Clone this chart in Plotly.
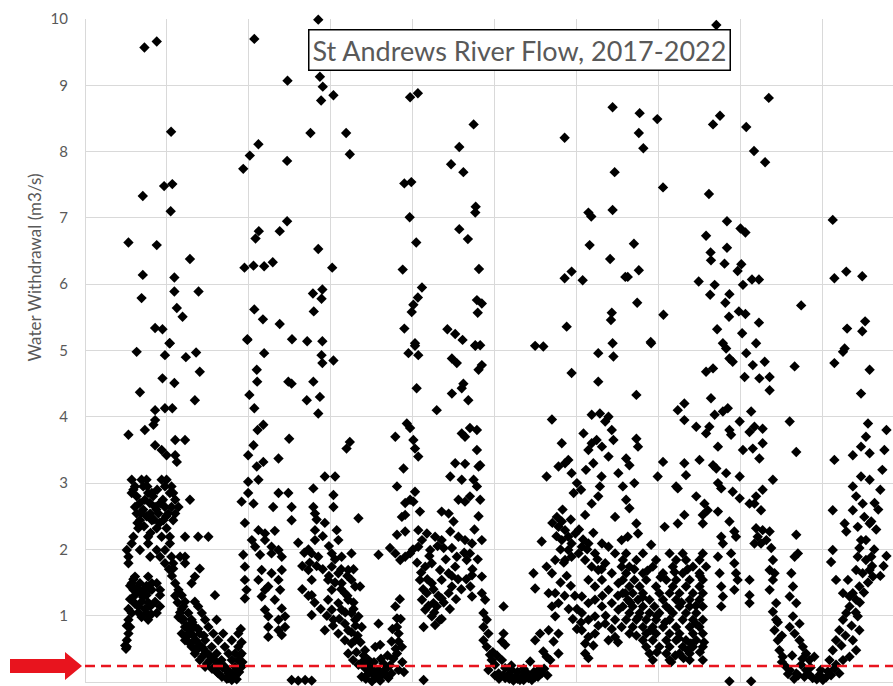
import plotly.graph_objects as go

# ---- Data: (day since start of record, river flow m3/s) ----
season1_high = [(145, 9.57), (175, 9.66), (210, 8.30), (193, 7.48), (213, 7.51), (141, 7.33), (209, 7.10),
                (106, 6.63), (175, 6.59), (256, 6.38), (141, 6.14), (218, 6.10), (218, 5.89), (277, 5.89),
                (138, 5.79), (224, 5.64), (238, 5.51), (171, 5.34), (189, 5.32), (206, 5.11)]

season2_high = [(569, 9.99), (413, 9.70), (494, 9.07), (573, 9.13), (580, 8.98), (576, 8.77), (606, 8.85),
                (550, 8.28), (637, 8.28), (646, 7.96), (423, 8.11), (402, 7.94), (386, 7.74), (493, 7.86),
                (493, 6.95), (475, 6.80), (424, 6.80), (416, 6.69), (569, 6.53), (603, 6.25), (389, 6.25),
                (411, 6.28), (437, 6.27), (458, 6.33), (579, 5.92), (556, 5.86), (577, 5.78), (558, 5.59),
                (413, 5.62), (434, 5.47), (475, 5.40), (396, 5.17), (505, 5.17), (542, 5.14), (579, 5.14)]

season1_mid = [(126, 4.98), (207, 5.11), (195, 4.93), (246, 4.90), (271, 4.97), (280, 4.68), (189, 4.58),
               (218, 4.51), (134, 4.37), (268, 4.25), (171, 4.10), (195, 4.13), (213, 4.13), (171, 3.95),
               (167, 3.88), (106, 3.73), (146, 3.80), (220, 3.65), (244, 3.65), (171, 3.57), (187, 3.50),
               (199, 3.42), (220, 3.42), (224, 3.32)]

season1_low = [(114, 3.05), (138, 3.05), (150, 3.05), (187, 3.05), (199, 3.05),
               (122, 2.95), (142, 2.95), (195, 2.95), (211, 2.95),
               (114, 2.85), (154, 2.85), (163, 2.85), (207, 2.85), (215, 2.85),
               (146, 2.75), (220, 2.75), (256, 2.75),
               (122, 2.64), (171, 2.64), (195, 2.64), (211, 2.64), (228, 2.64),
               (126, 2.54), (159, 2.54), (179, 2.54), (203, 2.54), (220, 2.54),
               (134, 2.44), (163, 2.44), (191, 2.44), (215, 2.44),
               (130, 2.32), (175, 2.32), (199, 2.32),
               (118, 2.19), (154, 2.19), (187, 2.19), (207, 2.19), (244, 2.19), (276, 2.19), (301, 2.19),
               (114, 2.09), (154, 2.09), (207, 2.09),
               (102, 1.99), (134, 1.99), (175, 1.99), (195, 1.99),
               (106, 1.89), (159, 1.89), (183, 1.89), (211, 1.89), (232, 1.89), (244, 1.89),
               (106, 1.79), (195, 1.79), (215, 1.79), (244, 1.79),
               (215, 1.71), (280, 1.71),
               (122, 1.59), (154, 1.59), (268, 1.59),
               (114, 1.49), (134, 1.49), (163, 1.49), (175, 1.49), (220, 1.49), (260, 1.49),
               (118, 1.39), (142, 1.39), (163, 1.39), (183, 1.39), (228, 1.39),
               (122, 1.31), (150, 1.31), (183, 1.31), (236, 1.31), (317, 1.31),
               (118, 1.21), (138, 1.21), (171, 1.21), (244, 1.21), (268, 1.21),
               (130, 1.14), (159, 1.14), (183, 1.14), (240, 1.14), (276, 1.14),
               (114, 1.04), (150, 1.04), (175, 1.04), (252, 1.04), (285, 1.04),
               (106, 0.94), (154, 0.94), (236, 0.94), (260, 0.94), (293, 0.94), (321, 0.94),
               (110, 0.83), (244, 0.83), (268, 0.83), (301, 0.83),
               (106, 0.73), (236, 0.73), (252, 0.73), (280, 0.73), (313, 0.73), (337, 0.73), (374, 0.73),
               (102, 0.63), (244, 0.63), (268, 0.63), (293, 0.63), (325, 0.63), (358, 0.63),
               (102, 0.53), (260, 0.53), (285, 0.53), (309, 0.53), (341, 0.53), (374, 0.53),
               (268, 0.43), (293, 0.43), (321, 0.43), (350, 0.43), (366, 0.43), (382, 0.43),
               (280, 0.33), (305, 0.33), (333, 0.33), (358, 0.33), (374, 0.33),
               (293, 0.23), (317, 0.23), (341, 0.23), (366, 0.23), (382, 0.23),
               (325, 0.13), (350, 0.13), (370, 0.13), (350, 0.06), (362, 0.06)]

season1_extra = [(110, 1.45), (118, 1.55), (126, 1.42), (134, 1.35), (142, 1.28), (150, 1.45), (158, 1.40),
                 (130, 1.05), (138, 0.98), (146, 1.10), (154, 1.20), (162, 1.02), (122, 1.18), (110, 1.25),
                 (102, 0.85), (98, 0.55), (100, 0.50), (106, 1.10),
                 (118, 2.90), (126, 2.80), (134, 2.70), (142, 2.60), (150, 2.50), (158, 2.70), (166, 2.80),
                 (174, 2.60), (182, 2.40), (190, 2.75), (198, 2.50), (128, 2.40), (136, 2.55), (144, 2.35),
                 (152, 2.95), (160, 2.25), (168, 2.45), (176, 2.90), (184, 2.70),
                 (205, 1.70), (212, 1.60), (220, 1.30), (226, 1.20), (232, 1.05), (240, 0.95), (248, 0.85),
                 (256, 0.78), (264, 0.70), (272, 0.62), (280, 0.55), (288, 0.50), (296, 0.45), (304, 0.40),
                 (312, 0.35), (320, 0.30), (328, 0.26), (336, 0.22), (344, 0.18), (352, 0.16), (360, 0.12),
                 (368, 0.10), (376, 0.15), (384, 0.30), (228, 0.98), (236, 1.10), (248, 0.68), (256, 0.58),
                 (272, 0.48), (286, 0.38), (298, 0.28), (310, 0.20), (322, 0.15), (334, 0.08), (346, 0.05),
                 (358, 0.03), (370, 0.04), (378, 0.40), (382, 0.60), (380, 0.80), (262, 0.90), (276, 0.80),
                 (290, 0.70)]

season2_low = [(396, 5.16), (437, 4.96), (577, 4.93), (579, 4.81), (606, 4.85), (419, 4.71), (420, 4.53),
               (496, 4.53), (504, 4.50), (557, 4.53), (401, 4.33), (541, 4.25), (573, 4.30), (413, 4.13),
               (569, 4.05), (435, 3.88), (421, 3.80), (498, 3.67), (411, 3.57), (638, 3.52), (646, 3.62),
               (398, 3.42), (472, 3.37), (435, 3.32), (419, 3.25), (585, 3.10), (610, 3.10), (398, 3.02),
               (423, 3.05), (557, 2.92), (606, 2.82), (398, 2.85), (472, 2.85), (496, 2.85), (382, 2.72),
               (411, 2.69), (459, 2.64), (504, 2.64), (557, 2.64), (561, 2.54), (606, 2.64), (504, 2.44),
               (390, 2.40), (585, 2.40), (423, 2.29), (439, 2.24), (463, 2.28), (561, 2.29), (614, 2.29),
               (407, 2.14), (439, 2.14), (455, 2.04), (561, 2.14), (618, 2.14), (415, 2.04), (472, 1.99),
               (386, 1.92), (427, 1.92), (455, 1.94), (480, 1.89), (553, 1.94), (569, 1.89), (602, 1.94),
               (626, 1.89), (650, 1.94), (390, 1.74), (431, 1.69), (455, 1.64), (480, 1.69), (545, 1.69),
               (602, 1.74), (618, 1.64), (642, 1.69), (390, 1.54), (423, 1.54), (447, 1.44), (472, 1.54),
               (553, 1.54), (593, 1.54), (626, 1.49), (650, 1.54), (394, 1.39), (439, 1.39), (476, 1.39),
               (602, 1.39), (634, 1.34), (659, 1.44), (390, 1.26), (431, 1.29), (463, 1.24), (553, 1.31),
               (593, 1.24), (618, 1.19), (642, 1.24), (439, 1.09), (480, 1.11), (602, 1.09), (626, 1.09),
               (650, 1.04), (447, 0.99), (472, 0.94), (488, 0.99), (553, 1.01), (606, 0.94), (634, 0.88),
               (659, 0.94), (447, 0.83), (472, 0.78), (488, 0.83), (585, 0.78), (618, 0.73), (642, 0.78),
               (447, 0.68), (480, 0.71), (634, 0.63), (650, 0.58), (642, 0.43), (654, 0.33),
               (504, 0.03), (520, 0.02), (537, 0.03), (553, 0.02)]

season2_extra = [(520, 2.10), (535, 1.95), (548, 1.80), (565, 1.75), (580, 1.70), (595, 1.60), (610, 1.50),
                 (625, 1.40), (640, 1.30), (655, 1.20), (530, 1.40), (545, 1.30), (560, 1.20), (575, 1.10),
                 (590, 1.00), (605, 0.85), (620, 0.95), (635, 1.05), (650, 0.75), (565, 2.45), (580, 2.20),
                 (595, 2.05), (610, 1.85), (625, 1.70), (640, 1.60), (655, 1.70), (545, 2.00), (530, 1.75),
                 (655, 1.10), (660, 0.85), (665, 0.70), (672, 0.60), (680, 0.40), (688, 0.30), (695, 0.22),
                 (703, 0.18), (712, 0.10), (720, 0.08), (728, 0.15), (735, 0.20), (744, 0.25), (752, 0.35),
                 (758, 0.50), (662, 0.45), (676, 0.30), (690, 0.12), (705, 0.30), (722, 0.35), (738, 0.40),
                 (750, 0.80), (770, 0.95), (768, 1.25), (774, 0.30), (778, 0.15), (720, 0.02), (685, 0.05),
                 (700, 0.01)]

season3_high = [(793, 8.82), (812, 8.88), (948, 8.41), (913, 8.07), (893, 7.81), (923, 7.69), (779, 7.52),
                (796, 7.54), (792, 7.01), (808, 6.63), (775, 6.22), (953, 7.17), (952, 7.08), (913, 6.83),
                (934, 6.68), (961, 6.23), (822, 5.95), (812, 5.80), (801, 5.69), (797, 5.58), (956, 5.76),
                (968, 5.71), (958, 5.57), (779, 5.33), (884, 5.32), (903, 5.25), (921, 5.16), (805, 5.07),
                (952, 5.07), (964, 5.08)]

season4_high = [(1170, 8.21), (1098, 5.07), (1118, 5.06), (1228, 7.08), (1235, 7.02), (1231, 6.59),
                (1187, 6.19), (1170, 6.09), (1214, 6.06), (1175, 5.36), (1287, 8.67), (1292, 7.69),
                (1287, 7.12), (1281, 6.38), (1318, 6.11), (1285, 5.57), (1283, 5.46), (1287, 5.11)]

season2_recession = [(667, 2.47), (716, 1.92), (671, 1.44), (667, 0.99), (675, 0.83), (716, 0.88), (659, 0.63),
                     (683, 0.48), (708, 0.53), (720, 0.56), (757, 1.14), (761, 0.96), (761, 0.83), (765, 0.73),
                     (765, 0.61), (773, 0.53), (761, 0.43), (748, 0.61), (667, 0.26), (683, 0.21), (700, 0.13),
                     (716, 0.18), (732, 0.11), (748, 0.13), (675, 0.08), (708, 0.06), (740, 0.06), (765, 0.18),
                     (692, 0.33), (728, 0.28), (826, 0.03)]

season3_low = [(805, 5.11), (789, 4.96), (813, 4.93), (895, 4.88), (907, 4.81), (952, 5.08), (960, 4.71),
               (968, 4.78), (923, 4.50), (919, 4.43), (809, 4.43), (895, 4.35), (935, 4.25), (858, 4.10),
               (785, 3.90), (793, 3.83), (757, 3.70), (801, 3.65), (805, 3.52), (813, 3.40), (919, 3.75),
               (927, 3.70), (939, 3.83), (956, 3.80), (956, 3.50), (964, 3.27), (960, 3.25), (903, 3.30),
               (927, 3.29), (777, 3.22), (891, 3.10), (919, 3.05), (948, 3.05), (956, 2.95), (761, 2.95),
               (805, 2.87), (911, 2.75), (927, 2.72), (939, 2.80), (964, 2.75), (781, 2.70), (793, 2.75),
               (801, 2.72), (781, 2.52), (773, 2.49), (817, 2.57), (870, 2.57), (887, 2.54), (899, 2.42),
               (891, 2.27), (761, 2.22), (781, 2.27), (813, 2.29), (834, 2.24), (854, 2.19), (870, 2.14),
               (822, 2.14), (911, 2.19), (927, 2.14), (944, 2.09), (968, 2.14), (744, 2.02), (757, 1.94),
               (769, 1.84), (781, 1.89), (793, 1.94), (813, 2.04), (842, 1.99), (875, 2.02), (895, 2.02),
               (907, 1.89), (931, 1.84), (939, 1.94), (830, 1.74), (846, 1.79), (866, 1.69), (887, 1.64),
               (903, 1.74), (944, 1.61), (968, 1.59), (817, 1.54), (846, 1.49), (870, 1.54), (895, 1.44),
               (834, 1.34), (940, 1.44), (944, 1.29), (968, 1.34), (976, 1.24), (822, 1.24), (850, 1.19),
               (870, 1.26), (887, 1.34), (830, 1.09), (858, 1.14), (846, 0.99), (866, 0.94), (854, 0.86),
               (826, 0.83), (972, 1.04), (980, 0.94), (972, 0.83), (984, 0.73), (972, 0.63), (980, 0.53),
               (988, 0.41), (992, 0.33), (1000, 0.26), (984, 0.18), (1017, 0.33), (1025, 0.21), (1009, 0.13),
               (1033, 0.11), (1049, 0.08), (1066, 0.08), (1082, 0.06), (1098, 0.08), (1114, 0.13),
               (1074, 0.16), (1041, 0.18), (1025, 0.06), (1061, 0.03), (1090, 0.03), (1106, 0.18),
               (1086, 0.31), (1021, 1.14), (1021, 0.73), (1017, 0.61), (1025, 0.56)]

season3_extra = [(800, 2.00), (810, 1.80), (820, 1.65), (835, 1.55), (850, 1.40), (862, 1.30), (875, 1.20),
                 (890, 1.10), (905, 1.25), (918, 1.40), (930, 1.55), (945, 1.70), (958, 1.85), (880, 1.85),
                 (860, 2.05), (840, 1.90), (825, 1.40), (838, 1.15), (852, 1.05), (870, 0.95), (895, 1.60),
                 (910, 1.55), (925, 1.95), (950, 2.30), (960, 2.50),
                 (1000, 0.10), (1010, 0.05), (1020, 0.10), (1035, 0.05), (1045, 0.02), (1055, 0.05),
                 (1070, 0.03), (1080, 0.12), (1095, 0.15), (1105, 0.08), (1120, 0.20), (1128, 0.10),
                 (1040, 0.25), (1055, 0.15), (1070, 0.20), (995, 0.45), (1005, 0.40)]

season4_low = [(1094, 1.64), (1098, 1.41), (1098, 0.63), (1110, 0.73), (1118, 0.46), (1126, 0.38), (1135, 0.33),
               (1114, 2.12), (1126, 3.10), (1139, 3.96), (1163, 3.60), (1187, 4.66), (1126, 1.74), (1147, 1.84),
               (1139, 1.64), (1131, 1.34), (1147, 1.34), (1139, 1.14), (1155, 1.19), (1147, 0.99), (1131, 0.78),
               (1155, 0.73), (1143, 0.61), (1155, 0.43), (1151, 2.49), (1163, 2.42), (1155, 2.34), (1171, 2.29),
               (1163, 2.14), (1179, 2.19), (1187, 2.09), (1196, 2.24), (1179, 1.99), (1204, 1.94), (1187, 1.89),
               (1171, 1.84), (1155, 3.25), (1171, 3.30), (1187, 3.15), (1179, 3.35), (1192, 2.85), (1216, 3.75),
               (1236, 3.60), (1228, 3.50), (1248, 3.65), (1261, 3.55), (1277, 3.40), (1269, 3.93), (1277, 4.00),
               (1256, 4.05), (1236, 4.03), (1285, 3.80), (1289, 3.65), (1301, 3.15), (1252, 4.96), (1289, 4.91),
               (1252, 4.53), (1256, 2.95), (1252, 2.80), (1236, 2.69), (1220, 2.52), (1293, 2.49),
               (1212, 2.04), (1228, 2.09), (1244, 1.94), (1261, 2.09), (1277, 2.04), (1293, 1.94), (1309, 2.14),
               (1220, 1.84), (1236, 1.74), (1252, 1.69), (1269, 1.79), (1285, 1.64), (1309, 1.74),
               (1228, 1.54), (1244, 1.44), (1261, 1.54), (1277, 1.39), (1301, 1.49), (1318, 1.34),
               (1212, 1.29), (1228, 1.19), (1244, 1.24), (1261, 1.14), (1285, 1.19), (1301, 1.09),
               (1212, 1.04), (1228, 0.94), (1244, 0.99), (1269, 0.88), (1293, 0.94), (1309, 0.83),
               (1212, 0.78), (1228, 0.68), (1220, 0.58), (1244, 0.73), (1277, 0.63), (1293, 0.68),
               (1220, 0.43), (1228, 0.36)]

season4_extra = [(1140, 2.40), (1150, 2.20), (1160, 2.00), (1168, 1.80), (1175, 1.60), (1185, 1.45), (1195, 1.30),
                 (1200, 1.10), (1210, 0.90), (1160, 1.50), (1170, 1.30), (1180, 1.10), (1190, 0.95), (1200, 0.80),
                 (1165, 2.60), (1185, 2.45), (1205, 2.30), (1215, 2.15), (1225, 2.00), (1240, 2.25), (1250, 1.85),
                 (1260, 1.70), (1200, 3.00), (1210, 2.90), (1222, 3.20), (1240, 3.30), (1260, 3.10),
                 (1340, 1.70), (1372, 1.68), (1404, 1.58), (1438, 1.66), (1470, 1.70), (1500, 1.60), (1330, 1.20),
                 (1360, 1.28), (1395, 1.00), (1425, 1.10), (1455, 1.20), (1490, 1.15), (1345, 0.70), (1380, 0.78),
                 (1415, 0.90), (1448, 0.66), (1478, 0.58), (1510, 0.60), (1395, 0.45), (1440, 0.40), (1470, 0.48),
                 (1500, 0.45), (1430, 0.30), (1460, 0.36), (1350, 0.98), (1490, 0.88), (1262, 1.30), (1270, 1.00),
                 (1285, 0.80), (1300, 0.60), (1252, 0.85), (1240, 0.55), (1300, 1.30)]

season5_high = [(1540, 9.91), (1353, 8.58), (1351, 8.28), (1362, 8.05), (1396, 8.49), (1532, 8.41), (1549, 8.54),
                (1668, 8.81), (1613, 8.37), (1632, 8.01), (1659, 7.84), (1410, 7.46), (1522, 7.36), (1824, 6.97),
                (1566, 6.95), (1599, 6.84), (1611, 6.78), (1339, 6.61), (1515, 6.73), (1566, 6.55), (1526, 6.48),
                (1527, 6.36), (1560, 6.31), (1601, 6.30), (1592, 6.20), (1324, 6.11), (1351, 6.21), (1497, 6.04),
                (1536, 5.99), (1525, 5.84), (1572, 5.85), (1562, 5.72), (1605, 5.99), (1627, 6.07), (1644, 6.07),
                (1347, 5.72), (1411, 5.54), (1747, 5.68), (1828, 6.09), (1857, 6.19), (1896, 6.12), (1595, 5.59),
                (1611, 5.55), (1571, 5.51), (1644, 5.42), (1542, 5.32), (1603, 5.26), (1859, 5.33), (1896, 5.29),
                (1903, 5.44), (1380, 5.13), (1556, 5.11), (1637, 5.11), (1853, 5.03)]

season5_mid = [(1381, 5.11), (1564, 5.03), (1613, 4.96), (1629, 4.78), (1658, 4.83), (1645, 4.58), (1670, 4.60),
               (1609, 4.60), (1670, 4.40), (1572, 4.88), (1580, 4.83), (1515, 4.68), (1532, 4.73), (1731, 4.76),
               (1828, 4.81), (1849, 4.98), (1914, 4.71), (1893, 4.35), (1345, 4.33), (1446, 4.10), (1462, 4.20),
               (1527, 4.28), (1556, 4.08), (1568, 4.13), (1536, 4.03), (1462, 3.95), (1491, 3.85), (1523, 3.85),
               (1515, 3.75), (1597, 3.93), (1625, 4.08), (1633, 3.85), (1653, 3.82), (1621, 3.77), (1572, 3.80),
               (1576, 3.73), (1719, 3.93), (1910, 3.90), (1905, 3.70), (1893, 3.55), (1914, 3.45), (1873, 3.42),
               (1735, 3.47), (1544, 3.55), (1605, 3.50), (1629, 3.52), (1653, 3.60), (1645, 3.37), (1828, 3.35),
               (1345, 3.67), (1349, 3.55), (1320, 3.37), (1328, 3.27), (1410, 3.32), (1462, 3.30), (1499, 3.35),
               (1397, 3.10), (1466, 3.12), (1532, 3.27), (1540, 3.22), (1564, 3.15), (1597, 3.10), (1340, 3.00),
               (1312, 2.95), (1320, 2.75), (1328, 2.62), (1442, 2.95), (1446, 2.92), (1544, 3.00), (1552, 2.92),
               (1580, 2.87), (1597, 2.77), (1621, 2.69), (1637, 2.80), (1653, 2.90), (1633, 2.69), (1649, 2.59),
               (1678, 3.05), (1893, 3.10), (1914, 3.05), (1873, 2.95), (1881, 2.80), (1897, 2.69), (1873, 2.59),
               (1901, 2.49), (1918, 2.42), (1824, 2.59), (1491, 2.80), (1511, 2.69), (1519, 2.59), (1507, 2.52),
               (1544, 2.57), (1414, 2.34), (1446, 2.39), (1462, 2.52), (1507, 2.39), (1345, 2.39), (1349, 2.24),
               (1324, 2.19), (1572, 2.42), (1584, 2.27), (1588, 2.19), (1552, 2.19), (1556, 2.09), (1637, 2.32),
               (1653, 2.29), (1670, 2.27), (1641, 2.19), (1662, 2.14), (1649, 2.09), (1674, 2.02), (1633, 2.09),
               (1735, 2.22), (1739, 1.94), (1731, 1.89), (1853, 2.39), (1857, 2.27), (1885, 2.34), (1914, 2.39),
               (1893, 2.14), (1905, 2.14), (1889, 2.02), (1824, 1.99), (1820, 1.81), (1381, 2.07)]

season5_low = [(1320, 1.94), (1361, 1.94), (1426, 1.94), (1458, 1.94), (1507, 1.94),
               (1312, 1.84), (1345, 1.84), (1393, 1.84), (1442, 1.84), (1466, 1.84), (1499, 1.84),
               (1328, 1.74), (1385, 1.74), (1434, 1.74), (1483, 1.74), (1515, 1.74),
               (1320, 1.64), (1361, 1.64), (1410, 1.64), (1458, 1.64), (1499, 1.64),
               (1312, 1.54), (1340, 1.54), (1369, 1.54), (1418, 1.54), (1442, 1.54), (1475, 1.54), (1507, 1.54),
               (1328, 1.44), (1353, 1.44), (1393, 1.44), (1434, 1.44), (1466, 1.44), (1499, 1.44),
               (1312, 1.34), (1336, 1.34), (1361, 1.34), (1401, 1.34), (1426, 1.34), (1450, 1.34), (1483, 1.34), (1507, 1.34),
               (1324, 1.24), (1349, 1.24), (1377, 1.24), (1410, 1.24), (1442, 1.24), (1475, 1.24), (1499, 1.24),
               (1312, 1.14), (1336, 1.14), (1361, 1.14), (1389, 1.14), (1418, 1.14), (1450, 1.14), (1475, 1.14), (1507, 1.14),
               (1328, 1.04), (1353, 1.04), (1377, 1.04), (1401, 1.04), (1434, 1.04), (1466, 1.04), (1491, 1.04),
               (1320, 0.94), (1345, 0.94), (1369, 0.94), (1393, 0.94), (1426, 0.94), (1458, 0.94), (1483, 0.94), (1507, 0.94),
               (1336, 0.83), (1361, 0.83), (1385, 0.83), (1410, 0.83), (1442, 0.83), (1475, 0.83), (1499, 0.83),
               (1328, 0.73), (1369, 0.73), (1393, 0.73), (1426, 0.73), (1450, 0.73), (1483, 0.73), (1507, 0.73),
               (1361, 0.63), (1385, 0.63), (1418, 0.63), (1442, 0.63), (1466, 0.63), (1491, 0.63),
               (1369, 0.53), (1401, 0.53), (1426, 0.53), (1458, 0.53), (1483, 0.53), (1507, 0.53),
               (1377, 0.43), (1418, 0.43), (1450, 0.43), (1475, 0.43),
               (1385, 0.33), (1426, 0.33), (1475, 0.33), (1507, 0.33)]

season6 = [(1544, 1.89), (1548, 1.64), (1552, 1.44), (1556, 1.29), (1552, 1.14), (1576, 1.94), (1584, 1.79),
           (1588, 1.64), (1592, 1.54), (1584, 1.39), (1621, 1.54), (1621, 1.31), (1621, 1.19), (1678, 1.84),
           (1670, 1.69), (1682, 1.64), (1678, 1.54), (1670, 1.39), (1686, 1.19), (1678, 1.06), (1686, 0.94),
           (1682, 0.78), (1690, 0.63), (1694, 0.48), (1702, 0.38), (1710, 0.23), (1719, 0.18), (1735, 0.13),
           (1747, 0.26), (1759, 0.18), (1755, 0.08), (1775, 0.06), (1792, 0.11), (1800, 0.03), (1812, 0.16),
           (1816, 0.33), (1824, 0.48), (1832, 0.63), (1840, 0.78), (1849, 0.94), (1857, 1.04), (1865, 1.14),
           (1881, 1.24), (1873, 1.34), (1885, 0.99), (1889, 0.78), (1873, 0.63), (1881, 0.48), (1865, 0.38),
           (1849, 0.33), (1832, 0.26), (1840, 0.13), (1723, 1.64), (1727, 1.44), (1719, 1.29), (1735, 1.19),
           (1727, 0.99), (1743, 0.88), (1719, 0.83), (1731, 0.73), (1743, 0.63), (1751, 0.53), (1759, 0.43),
           (1767, 0.33), (1779, 0.38), (1832, 1.54), (1849, 1.34), (1861, 1.54), (1881, 1.69), (1897, 1.64),
           (1914, 1.69), (1922, 1.59), (1905, 1.84), (1918, 1.89), (1885, 1.89), (1889, 1.44), (1865, 1.29),
           (1572, 0.01), (1625, 0.01)]

season6_extra = [(1700, 0.30), (1715, 0.12), (1730, 0.05), (1740, 0.10), (1765, 0.12), (1785, 0.04), (1795, 0.18),
                 (1808, 0.07), (1820, 0.10), (1828, 0.20), (1725, 0.40), (1750, 0.35), (1770, 0.22), (1690, 0.90),
                 (1700, 0.70), (1845, 0.55), (1855, 0.70), (1870, 0.85), (1880, 1.05), (1890, 1.20), (1900, 1.35),
                 (1910, 1.50), (1920, 1.75), (1925, 2.00), (1930, 2.30), (1935, 2.60), (1940, 2.90), (1945, 3.20),
                 (1950, 3.50), (1955, 3.80), (1926, 2.70), (1940, 1.60), (1948, 1.75), (1955, 1.90)]

threshold_flow = 0.24
title_text = "St Andrews River Flow, 2017-2022"
y_title = "Water Withdrawal (m3/s)"
y_max = 10
x_max = 1971
grid_step_days = 200

segments = [season1_high, season2_high, season1_mid, season1_low, season1_extra, season2_low, season2_extra,
            season3_high, season4_high, season2_recession, season3_low, season3_extra, season4_low,
            season4_extra, season5_high, season5_mid, season5_low, season6, season6_extra]
days = [d for seg in segments for d, _ in seg]
flows = [f for seg in segments for _, f in seg]

FONT = "Lato, 'Open Sans', Arial, sans-serif"
GRAY = "#595959"
GRID = "#d9d9d9"
RED = "#E8141E"

fig = go.Figure()
fig.add_trace(go.Scatter(
    x=days, y=flows, mode="markers", cliponaxis=False,
    marker=dict(symbol="diamond", size=8, color="black", line=dict(width=0)),
    showlegend=False, hoverinfo="x+y"))

fig.update_layout(
    width=893, height=686,
    margin=dict(l=85, r=0, t=19, b=4),
    paper_bgcolor="white", plot_bgcolor="white",
    font=dict(family=FONT, color=GRAY),
    xaxis=dict(range=[0, x_max], dtick=grid_step_days, tick0=0, showticklabels=False,
               showgrid=True, gridcolor=GRID, gridwidth=1, zeroline=True, zerolinecolor=GRID,
               zerolinewidth=1, showline=False, ticks=""),
    yaxis=dict(range=[0, y_max], dtick=1, tick0=0, showgrid=True, gridcolor=GRID, gridwidth=1,
               zeroline=True, zerolinecolor=GRID, zerolinewidth=1, showline=False, ticks="",
               tickfont=dict(family=FONT, size=15, color=GRAY), ticklabelstandoff=16),
)

# threshold line
fig.add_shape(type="line", xref="paper", yref="y", x0=0, x1=1, y0=threshold_flow, y1=threshold_flow,
              line=dict(color=RED, width=2.5, dash="10px,6px"), layer="above")

# red arrow pointing at threshold line
fig.add_shape(type="path", xref="paper", yref="paper", xsizemode="pixel", ysizemode="pixel",
              xanchor=0, yanchor=threshold_flow / y_max,
              path="M -75,-7 L -20,-7 L -20,-14 L -3,0 L -20,14 L -20,7 L -75,7 Z",
              fillcolor=RED, line=dict(color=RED, width=0), layer="above")

# boxed title
fig.add_annotation(x=0.538, y=0.953, xref="paper", yref="paper", text=title_text, showarrow=False,
                   font=dict(family=FONT, size=27, color=GRAY), bordercolor="black", borderwidth=1.5,
                   borderpad=3, bgcolor="white", xanchor="center", yanchor="middle")

# y-axis title
fig.add_annotation(x=-0.062, y=0.625, xref="paper", yref="paper", text=y_title, showarrow=False,
                   textangle=-90, font=dict(family=FONT, size=17, color=GRAY),
                   xanchor="center", yanchor="middle")

fig.write_html("out.html", config={"displayModeBar": False},
               post_script="document.body.style.margin='0px';document.body.style.overflow='hidden';")
